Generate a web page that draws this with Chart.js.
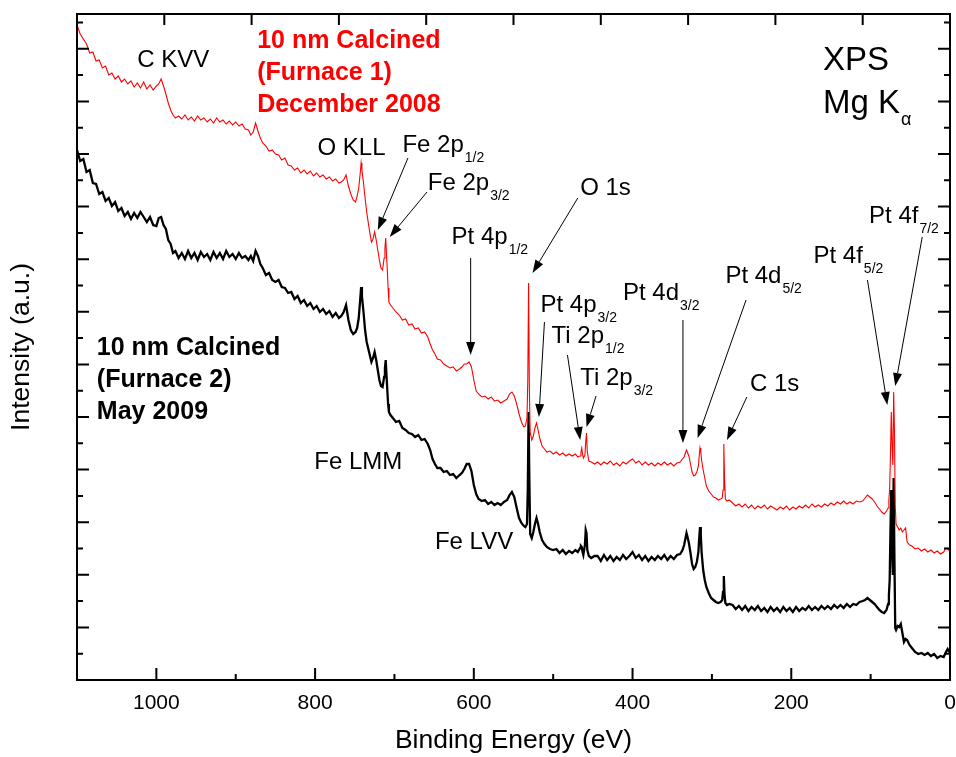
<!DOCTYPE html>
<html>
<head>
<meta charset="utf-8">
<script src="https://cdn.jsdelivr.net/npm/chart.js@4.4.1/dist/chart.umd.min.js"></script>
<style>
  html, body { margin: 0; padding: 0; background: #fff; }
  #wrap { width: 956px; height: 757px; }
</style>
</head>
<body>
<div id="wrap"><canvas id="c" width="956" height="757"></canvas></div>
<script>
// ---------------- DATA ----------------
// Binding energy grid (eV), shared by both spectra
const bindingEnergy = [
  1100,1096,1092,1088,1084,1080,1076,1072,1068,1064,
  1060,1056,1052,1048,1044,1040,1036,1032,1028,1024,
  1020,1016,1012,1008,1004,
  1000,997,994,991,988,985,982,979,976,972,
  968,964,960,956,952,948,944,940,936,932,
  928,924,920,916,912,908,904,900,896,892,
  888,
  884,881,878,875,872,869,866,862,858,854,
  850,846,842,838,834,830,826,822,818,814,
  810,806,802,798,794,790,786,782,778,774,
  770,
  767,764,761,758,755,752,749,747,745,743,
  742,741,739,737,735,732,729,727,725,723,
  721,719,717,715,713,712,711,710,709,708,
  707,705,702,
  698,694,690,686,682,678,674,670,666,662,
  658,655,652,649,646,642,638,634,630,626,
  622,618,615,612,
  609,606,603,600,597,594,590,586,582,578,
  574,570,566,562,558,555,552,549,546,543,
  540,537,535,533,532,531,530,529,527,525,
  523,521,519,517,514,511,508,504,500,
  496,492,488,484,480,476,472,469,466,465,
  464,463,462,460,459,458,457,455,452,448,
  444,440,436,432,428,424,420,416,412,408,
  404,400,396,392,388,384,380,376,372,368,
  364,360,356,352,348,344,
  340,337,335,333,332,331,329,327,325,323,
  321,319,317,316,315,314,313,311,309,307,
  304,301,298,295,292,289,287,286,285,284,
  283,281,278,
  274,270,266,262,258,254,250,246,242,238,
  234,230,226,222,218,214,210,206,202,198,
  194,190,186,182,178,174,170,166,162,158,
  154,150,146,142,138,134,130,126,122,118,
  114,
  110,107,104,101,98,95,92,89,86,83,
  80,78,77,76,75,74,73,72,71,70,
  69,68,66,64,62,60,58,56,54,51,
  48,44,40,36,32,28,24,20,16,12,
  8,5,3,0
];

// Intensity (a.u., offset) – 10 nm Calcined (Furnace 1) December 2008  (red)
const furnace1Dec2008 = [
  655,646,641,636,627,628,619,620,612,614,
  605,607,601,604,598,601,596,599,593,597,
  592,598,591,595,590,
  594,596,601,594,586,577,570,565,562,564,
  561,565,560,563,559,564,560,562,558,561,
  557,562,558,560,556,559,555,558,554,556,
  551,
  550,545,548,557,549,542,537,534,529,530,
  526,525,520,522,515,514,510,512,507,510,
  506,509,504,507,503,505,501,503,499,501,
  497,
  498,500,505,494,486,480,478,484,492,508,
  517,510,497,482,468,452,438,441,448,440,
  430,420,412,410,422,432,442,425,410,392,
  378,375,372,
  368,365,360,361,355,356,351,352,347,348,
  343,336,330,326,321,320,316,314,312,313,
  309,311,313,316,
  316,318,313,300,289,286,283,284,281,283,
  279,280,277,279,281,286,288,284,276,266,
  258,253,254,262,300,397,290,248,240,244,
  252,257,250,242,234,231,228,229,226,
  228,225,227,224,226,224,226,223,224,228,
  232,226,222,225,238,247,228,219,218,216,
  218,215,218,216,219,215,217,214,218,216,
  219,221,217,219,215,218,215,217,214,217,
  215,218,215,217,214,217,
  218,221,223,228,230,228,224,216,208,204,
  205,208,214,224,232,228,220,210,202,194,
  189,186,183,182,180,181,182,190,236,200,
  181,179,180,
  177,174,176,173,176,172,175,171,174,172,
  175,171,174,172,170,173,171,174,170,173,
  171,174,172,175,172,176,173,175,173,176,
  174,177,175,178,176,179,176,178,176,179,
  178,
  179,182,185,183,181,178,174,171,168,166,
  169,172,180,192,225,268,235,215,288,250,
  175,156,153,150,152,148,150,152,138,135,
  134,131,132,129,131,128,130,127,129,126,
  128,132,131,129
];

// Intensity (a.u., offset) – 10 nm Calcined (Furnace 2) May 2009  (black)
const furnace2May2009 = [
  530,519,521,508,510,497,496,486,488,479,
  482,474,478,469,472,464,468,461,467,462,
  468,463,458,463,455,
  454,462,463,455,451,440,436,427,429,422,
  427,421,429,422,427,420,428,423,426,420,
  428,422,427,421,429,423,426,421,427,422,
  424,
  420,424,419,429,424,416,412,405,407,400,
  398,400,393,392,387,388,381,384,377,380,
  374,377,371,374,368,371,366,369,363,367,
  362,
  364,368,375,360,350,346,348,352,362,382,
  393,384,368,350,338,328,318,322,328,320,
  310,300,294,293,303,312,320,305,290,276,
  268,265,262,
  258,259,252,250,247,246,243,245,240,241,
  236,230,221,216,212,212,208,209,205,206,
  202,205,207,211,
  216,216,209,195,186,181,179,180,176,178,
  175,177,175,178,180,185,188,183,172,162,
  157,154,153,156,190,268,200,146,142,148,
  156,162,156,148,140,136,133,131,130,
  131,127,130,126,129,127,130,128,132,134,
  133,128,125,135,150,147,130,124,122,124,
  124,119,125,120,124,119,123,120,125,121,
  124,128,122,125,120,124,119,123,120,124,
  121,125,120,124,121,125,
  126,130,135,143,147,144,137,127,116,111,
  113,118,128,142,153,145,128,110,100,93,
  87,82,80,78,77,78,80,88,104,84,
  77,75,76,
  75,71,74,70,74,69,73,70,74,69,
  72,68,73,69,72,68,73,69,72,68,
  73,69,72,70,74,70,73,70,74,71,
  74,71,75,72,75,72,76,73,76,75,
  78,
  79,80,82,80,78,76,73,70,68,67,
  70,76,85,100,150,190,130,105,202,120,
  52,50,54,53,56,47,38,41,40,35,
  32,28,26,27,25,27,24,26,22,24,
  23,28,31,27
];

// Axis tick values
const xTickLabels = [1000, 800, 600, 400, 200, 0];
const xMinorTicks = [1100, 900, 700, 500, 300, 100];
const xTopTicks = [990, 880, 770, 660, 550, 440, 330, 220, 110];
const Y_MAJOR_STEP = 52.6;   // unlabeled intensity ticks (a.u.)
const Y_MAX = 666;

// Peak labels (position in data coordinates: binding energy, intensity)
const peakLabels = [
  {text: 'C KVV', e: 1024, h: 613},
  {text: 'O KLL', e: 797, h: 525},
  {text: 'Fe 2p', sub: '1/2', e: 690, h: 528},
  {text: 'Fe 2p', sub: '3/2', e: 658, h: 490},
  {text: 'Pt 4p', sub: '1/2', e: 628, h: 436},
  {text: 'O 1s', e: 466, h: 485},
  {text: 'Pt 4p', sub: '3/2', e: 516, h: 368},
  {text: 'Ti 2p', sub: '1/2', e: 502, h: 337},
  {text: 'Ti 2p', sub: '3/2', e: 466, h: 295},
  {text: 'Pt 4d', sub: '3/2', e: 412, h: 380},
  {text: 'Pt 4d', sub: '5/2', e: 283, h: 397},
  {text: 'C 1s', e: 252, h: 289},
  {text: 'Pt 4f', sub: '5/2', e: 172, h: 417},
  {text: 'Pt 4f', sub: '7/2', e: 102, h: 457},
  {text: 'Fe LMM', e: 801, h: 211},
  {text: 'Fe LVV', e: 649, h: 131}
];

// Arrows: [fromE, fromH, toE, toH]
const peakArrows = [
  [683, 522, 721, 450],
  [659, 488, 706, 443],
  [604, 422, 604, 325],
  [469, 482, 526, 407],
  [511, 358, 518, 263],
  [482, 325, 466, 240],
  [446, 284, 458, 253],
  [336.5, 360, 336.5, 237],
  [257, 380, 318, 242],
  [256, 283, 281, 240],
  [104, 400, 79, 275],
  [35, 443, 69, 294]
];

const redTitle = ['10 nm Calcined', '(Furnace 1)', 'December 2008'];
const blackTitle = ['10 nm Calcined', '(Furnace 2)', 'May 2009'];

// ---------------- CHART ----------------
const FONT = '"Liberation Sans", Arial, Helvetica, sans-serif';

function toPoints(ys) {
  return bindingEnergy.map((e, i) => ({x: e, y: ys[i]}));
}

const decor = {
  id: 'decor',
  afterDraw(chart) {
    const {ctx, chartArea: a, scales: {x, y}} = chart;
    ctx.save();
    // frame
    ctx.strokeStyle = '#000';
    ctx.lineWidth = 2;
    ctx.strokeRect(a.left, a.top, a.right - a.left, a.bottom - a.top);
    // ticks
    ctx.beginPath();
    xTickLabels.forEach(v => { const p = x.getPixelForValue(v); ctx.moveTo(p, a.bottom); ctx.lineTo(p, a.bottom - 12); });
    xMinorTicks.forEach(v => { const p = x.getPixelForValue(v); ctx.moveTo(p, a.bottom); ctx.lineTo(p, a.bottom - 6); });
    xTopTicks.forEach(v => { const p = x.getPixelForValue(v); ctx.moveTo(p, a.top); ctx.lineTo(p, a.top + 11); });
    for (let k = 1; k * Y_MAJOR_STEP / 2 < Y_MAX; k++) {
      const p = y.getPixelForValue(k * Y_MAJOR_STEP / 2);
      const len = (k % 2 === 0) ? 12 : 6;
      ctx.moveTo(a.left, p); ctx.lineTo(a.left + len, p);
      ctx.moveTo(a.right, p); ctx.lineTo(a.right - len, p);
    }
    ctx.stroke();

    // arrows
    ctx.lineWidth = 1;
    ctx.fillStyle = '#000';
    peakArrows.forEach(([e1, h1, e2, h2]) => {
      const x1 = x.getPixelForValue(e1), y1 = y.getPixelForValue(h1);
      const x2 = x.getPixelForValue(e2), y2 = y.getPixelForValue(h2);
      const ang = Math.atan2(y2 - y1, x2 - x1);
      const L = 13, W = 4.5;
      const bx = x2 - L * Math.cos(ang), by = y2 - L * Math.sin(ang);
      ctx.beginPath();
      ctx.moveTo(x1, y1); ctx.lineTo(bx, by); ctx.stroke();
      ctx.beginPath();
      ctx.moveTo(x2, y2);
      ctx.lineTo(bx + W * Math.sin(ang), by - W * Math.cos(ang));
      ctx.lineTo(bx - W * Math.sin(ang), by + W * Math.cos(ang));
      ctx.closePath(); ctx.fill();
    });

    // peak labels
    ctx.textBaseline = 'alphabetic';
    ctx.textAlign = 'left';
    peakLabels.forEach(l => {
      const px = x.getPixelForValue(l.e), py = y.getPixelForValue(l.h);
      ctx.font = '24px ' + FONT;
      ctx.fillStyle = '#000';
      ctx.fillText(l.text, px, py);
      if (l.sub) {
        const w = ctx.measureText(l.text).width;
        ctx.font = '14px ' + FONT;
        ctx.fillText(l.sub, px + w + 1, py + 10);
      }
    });

    // sample titles
    ctx.font = 'bold 25px ' + FONT;
    ctx.fillStyle = '#ff0000';
    redTitle.forEach((t, i) => ctx.fillText(t, x.getPixelForValue(873), y.getPixelForValue(632 - 32 * i)));
    ctx.fillStyle = '#000';
    blackTitle.forEach((t, i) => ctx.fillText(t, x.getPixelForValue(1075), y.getPixelForValue(325 - 32 * i)));

    // XPS Mg K alpha
    ctx.font = '33px ' + FONT;
    const xp = x.getPixelForValue(160);
    ctx.fillText('XPS', xp, y.getPixelForValue(610));
    ctx.fillText('Mg K', xp, y.getPixelForValue(567));
    const wmk = ctx.measureText('Mg K').width;
    ctx.font = '18px ' + FONT;
    ctx.fillText('α', xp + wmk + 1, y.getPixelForValue(567) + 12);
    ctx.restore();
  }
};

new Chart(document.getElementById('c'), {
  type: 'line',
  data: {
    datasets: [
      {label: '10 nm Calcined (Furnace 1) December 2008', data: toPoints(furnace1Dec2008),
       borderColor: '#ff0000', borderWidth: 1.1, pointRadius: 0, tension: 0, fill: false},
      {label: '10 nm Calcined (Furnace 2) May 2009', data: toPoints(furnace2May2009),
       borderColor: '#000000', borderWidth: 2.3, pointRadius: 0, tension: 0, fill: false}
    ]
  },
  options: {
    responsive: false,
    animation: false,
    devicePixelRatio: 1,
    layout: {padding: {top: 14, right: 6, left: 0, bottom: 0}},
    plugins: {legend: {display: false}, tooltip: {enabled: false}},
    scales: {
      x: {
        type: 'linear', reverse: true, min: 0, max: 1100, position: 'bottom',
        afterFit: s => { s.height = 77; s.paddingLeft = 0; s.paddingRight = 0; },
        grid: {display: false, drawTicks: false},
        border: {display: false},
        ticks: {stepSize: 200, includeBounds: false, autoSkip: false, maxRotation: 0, padding: 11,
                color: '#000', font: {family: FONT, size: 21},
                callback: v => (xTickLabels.includes(v) ? String(v) : '')},
        title: {display: true, text: 'Binding Energy (eV)', color: '#000',
                font: {family: FONT, size: 26.5}, padding: {top: 0, bottom: 0}}
      },
      y: {
        type: 'linear', min: 0, max: Y_MAX,
        afterFit: s => { s.width = 77; s.paddingTop = 0; s.paddingBottom = 0; },
        grid: {display: false, drawTicks: false},
        border: {display: false},
        ticks: {display: false},
        title: {display: true, text: 'Intensity (a.u.)', color: '#000',
                font: {family: FONT, size: 26.5}, padding: {top: 6, bottom: 0}}
      }
    }
  },
  plugins: [decor]
});
</script>
</body>
</html>
